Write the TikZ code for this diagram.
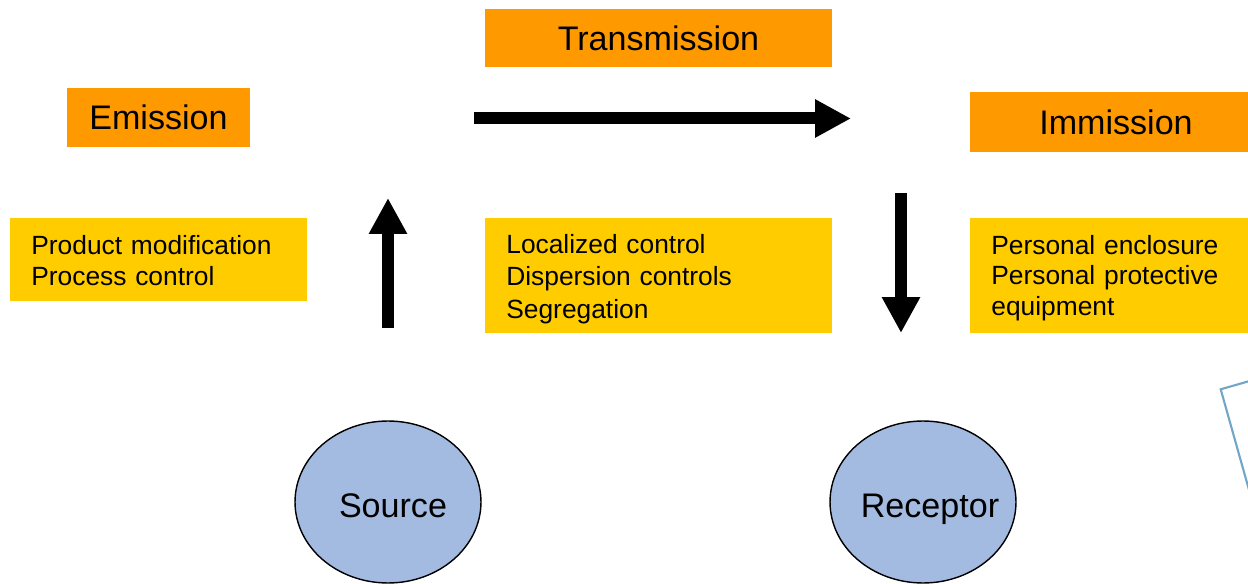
\documentclass[tikz,border=0pt]{standalone}
\usepackage{fontspec}
\setmainfont{Liberation Sans}
\usetikzlibrary{shapes.geometric, arrows.meta}

\definecolor{stageorange}{HTML}{FF9900}
\definecolor{measureyellow}{HTML}{FFCC00}
\definecolor{bodyblue}{HTML}{A3BBE0}
\definecolor{noteblue}{HTML}{72A6C9}

\begin{document}
\begin{tikzpicture}[
    x=0.02cm, y=-0.02cm,
    font=\fontsize{15}{17.4}\selectfont,
    stage/.style={
        rectangle,
        fill=stageorange,
        inner sep=0pt,
        font=\fontsize{19.4}{23}\selectfont
    },
    measure/.style={
        rectangle,
        fill=measureyellow,
        align=left,
        anchor=north west,
        inner xsep=0.42cm,
        inner ysep=0pt
    },
    body/.style={
        ellipse,
        draw=black,
        line width=0.8pt,
        fill=bodyblue,
        inner xsep=-0.3cm,
        inner ysep=0pt,
        text height=0.74cm,
        text depth=0.1cm,
        minimum width=3.72cm,
        minimum height=3.24cm,
        font=\fontsize{19.4}{23}\selectfont
    },
    flow/.style={
        -{Triangle[length=0.72cm, width=0.72cm]},
        line width=0.24cm,
        draw=black
    }
]
    \useasboundingbox (0,0) rectangle (1248,584);
    \clip (0,0) rectangle (1248,584);

    % --- stages ---
    \node[stage, minimum width=3.66cm, minimum height=1.2cm] (emission) at (158.5,117.5) {Emission};
    \node[stage, minimum width=6.94cm, minimum height=1.18cm] (transmission) at (658.5,38) {Transmission};
    \node[stage, minimum width=5.84cm, minimum height=1.2cm] (immission) at (1116,122) {Immission};

    % --- control measures ---
    \node[measure, text width=5.1cm, text height=0.726cm, text depth=0.934cm] (atsource) at (10,218) {
        Product modification\\Process control
    };
    \node[measure, text width=6.1cm, text height=0.694cm, text depth=1.606cm,
          font=\fontsize{15}{18.6}\selectfont] (inpath) at (485,218) {
        Localized control\\Dispersion controls\\Segregation
    };
    \node[measure, text width=5cm, text height=0.714cm, text depth=1.586cm] (atreceptor) at (970,218) {
        Personal enclosure\\Personal protective\\equipment
    };

    % --- source and receptor ---
    \node[body] (source) at (388,502) {\hspace*{0.2cm}Source};
    \node[body] (receptor) at (923,502) {\hspace*{0.28cm}Receptor};

    % --- arrow ends ---
    \coordinate (upTail) at (388,328);
    \coordinate (upHead) at (388,198);
    \coordinate (acrossTail) at (474,118.5);
    \coordinate (acrossHead) at (851,118.5);
    \coordinate (downTail) at (901,193);
    \coordinate (downHead) at (901,333);

    % --- connections ---
    \draw[flow] (upTail) -- (upHead);
    \draw[flow] (acrossTail) -- (acrossHead);
    \draw[flow] (downTail) -- (downHead);

    % --- note frame at the edge ---
    \draw[noteblue, line width=1.2pt, line join=miter]
        (1288,370) -- (1220.7,389.3) -- (1280,600);
\end{tikzpicture}
\end{document}
